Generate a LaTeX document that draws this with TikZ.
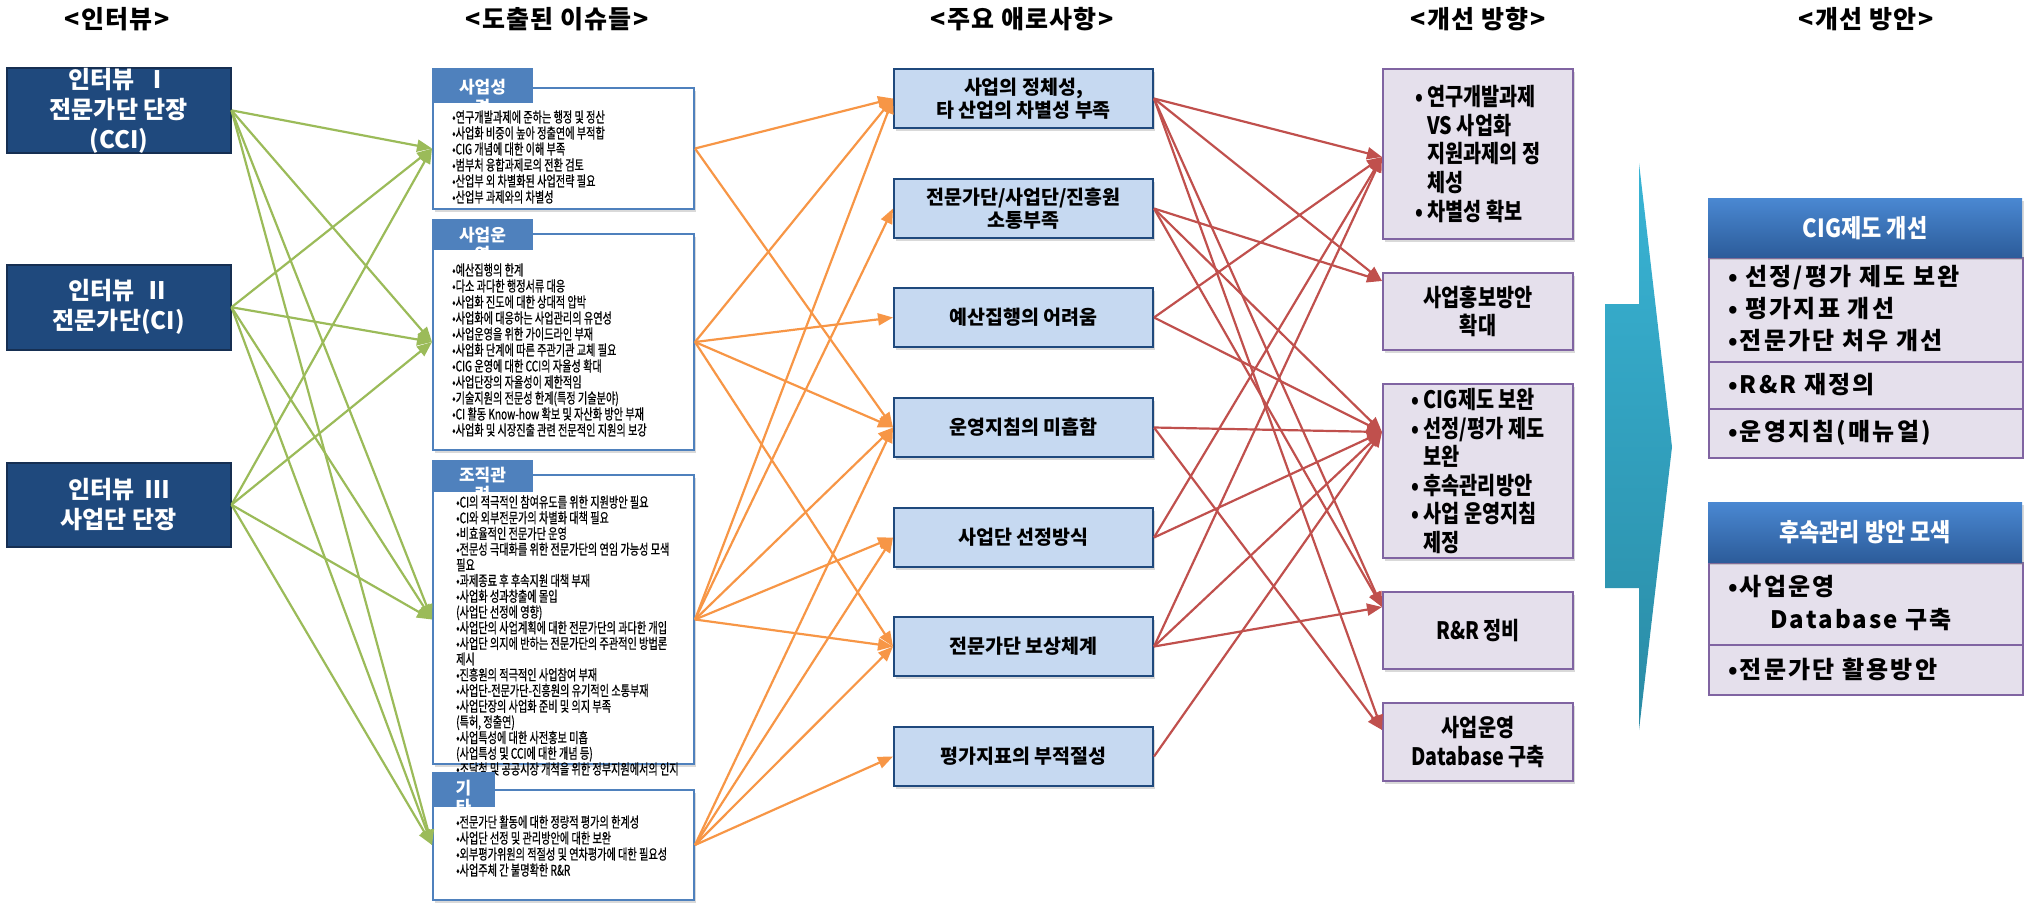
\documentclass[tikz,border=0pt]{standalone}
\usepackage{fontspec}
\setmainfont{Noto Sans CJK KR}
\newfontfamily\smallkr{Noto Sans CJK KR}[FakeStretch=0.7,FakeBold=0.6]
\newfontfamily\rkr{Noto Sans CJK KR}[FakeStretch=0.82]
\newfontfamily\gkr{Noto Sans CJK KR}[LetterSpace=9]
\newfontfamily\hkr{Noto Sans CJK KR}[LetterSpace=5]
\newfontfamily\ghkr{Noto Sans CJK KR}[FakeStretch=0.88]
\usetikzlibrary{arrows.meta,shadows}
\definecolor{ifill}{HTML}{1F497D}
\definecolor{ibord}{HTML}{162F52}
\definecolor{eblue}{HTML}{4F81BD}
\definecolor{mfill}{HTML}{C6D9F1}
\definecolor{mbord}{HTML}{1F497D}
\definecolor{pfill}{HTML}{E5E0EC}
\definecolor{pbord}{HTML}{8064A2}
\definecolor{gcol}{HTML}{9BBB59}
\definecolor{ocol}{HTML}{F79646}
\definecolor{rcol}{HTML}{C0504D}
\definecolor{arrtop}{HTML}{39B4D5}
\definecolor{arrbot}{HTML}{2A8BA5}
\definecolor{htop}{HTML}{4A88D2}
\definecolor{hbot}{HTML}{2C5C9A}
\begin{document}
\begin{tikzpicture}[x=1pt,y=-1pt,
  shd/.style={drop shadow={shadow xshift=2pt,shadow yshift=-3pt,opacity=0.3}},
  hdr/.style={font=\hkr\bfseries\fontsize{25}{30}\selectfont, inner sep=0pt},
  ibox/.style={draw=ibord, fill=ifill, line width=1.5pt, text=white, align=center,
    font=\bfseries\fontsize{24}{30}\selectfont, inner sep=0pt, anchor=north west,
    minimum width=224pt},
  ebox/.style={draw=eblue, line width=2pt, fill=white, anchor=north west, inner sep=0pt,
    minimum width=261pt, shd},
  etext/.style={font=\smallkr\fontsize{14.5}{16}\selectfont, align=left, anchor=west, inner sep=0pt},
  tabtext/.style={font=\bfseries\fontsize{17}{19.5}\selectfont, text=white, align=center, inner sep=0pt},
  mbox/.style={draw=mbord, fill=mfill, line width=2pt, align=center,
    font=\bfseries\fontsize{19.5}{23.5}\selectfont, minimum width=259pt, minimum height=59pt,
    anchor=north west, inner sep=0pt, shd},
  rbox/.style={draw=pbord, fill=pfill, line width=2pt, font=\rkr\bfseries\fontsize{24}{28.6}\selectfont,
    minimum width=190pt, anchor=north west, inner sep=0pt, shd},
  ghead/.style={top color=htop, bottom color=hbot, draw=none, minimum width=314pt, anchor=north west,
    inner sep=0pt, text=white, font=\ghkr\bfseries\fontsize{25}{30}\selectfont, shd},
  gsub/.style={draw=pbord, fill=pfill, line width=2pt, minimum width=314pt, anchor=north west, inner sep=0pt},
  gtext/.style={font=\gkr\bfseries\fontsize{24}{32}\selectfont, anchor=west, align=left, inner sep=0pt},
  gline/.style={draw=gcol, line width=2.2pt, -{Triangle[length=15pt,width=12pt]}},
  oline/.style={draw=ocol, line width=2.2pt, -{Triangle[length=15pt,width=12pt]}},
  rline/.style={draw=rcol, line width=2.2pt, -{Triangle[length=15pt,width=12pt]}}
]
\useasboundingbox (0,0) rectangle (2024,903);

% headers
\node[hdr] (h1) at (117,19) {<인터뷰>};
\node[hdr] (h2) at (557,19) {<도출된 이슈들>};
\node[hdr] (h3) at (1022,19) {<주요 애로사항>};
\node[hdr] (h4) at (1478,19) {<개선 방향>};
\node[hdr] (h5) at (1866,19) {<개선 방안>};

% interview boxes
\node[ibox, minimum height=85pt] (I1) at (6,67) {인터뷰 \ Ⅰ\\전문가단 단장\\(CCI)};
\node[ibox, minimum height=85pt] (I2) at (6,264) {인터뷰 \ Ⅱ\\전문가단(CI)};
\node[ibox, minimum height=84pt] (I3) at (6,462) {인터뷰 \ Ⅲ\\사업단 단장};

% issue boxes
\node[ebox, minimum height=121pt] (B1) at (432,87) {};
\begin{scope}
\clip (432,68) rectangle (533,103);
\fill[eblue] (432,68) rectangle (533,103);
\node[tabtext] (T1) at (482.5,97.25) {사업성\\격};
\end{scope}
\node[etext] (E1) at (452,157) {•연구개발과제에 준하는 행정 및 정산\\•사업화 비중이 높아 정출연에 부적합\\•CIG 개념에 대한 이해 부족\\•범부처 융합과제로의 전환 검토\\•산업부 외 차별화된 사업전략 필요\\•산업부 과제와의 차별성};

\node[ebox, minimum height=216pt] (B2) at (432,233) {};
\begin{scope}
\clip (432,219) rectangle (533,250);
\fill[eblue] (432,219) rectangle (533,250);
\node[tabtext] (T2) at (482.5,244.75) {사업운\\영};
\end{scope}
\node[etext] (E2) at (452,350) {•예산집행의 한계\\•다소 과다한 행정서류 대응\\•사업화 진도에 대한 상대적 압박\\•사업화에 대응하는 사업관리의 유연성\\•사업운영을 위한 가이드라인 부재\\•사업화 단계에 따른 주관기관 교체 필요\\•CIG 운영에 대한 CCI의 자율성 확대\\•사업단장의 자율성이 제한적임\\•기술지원의 전문성 한계(특정 기술분야)\\•CI 활동 Know-how 확보 및 자산화 방안 부재\\•사업화 및 시장진출 관련 전문적인 지원의 보강};

\node[ebox, minimum height=289pt] (B3) at (432,474) {};
\begin{scope}
\clip (432,460) rectangle (533,492);
\fill[eblue] (432,460) rectangle (533,492);
\node[tabtext] (T3) at (482.5,484.75) {조직관\\련};
\end{scope}
\node[etext, font=\smallkr\fontsize{14.5}{15.7}\selectfont] (E3) at (456,635.5) {•CI의 적극적인 참여유도를 위한 지원방안 필요\\•CI와 외부전문가의 차별화 대책 필요\\•비효율적인 전문가단 운영\\•전문성 극대화를 위한 전문가단의 연임 가능성 모색\\필요\\•과제종료 후 후속지원 대책 부재\\•사업화 성과창출에 몰입\\(사업단 선정에 영향)\\•사업단의 사업계획에 대한 전문가단의 과다한 개입\\•사업단 의지에 반하는 전문가단의 주관적인 방법론\\제시\\•진흥원의 적극적인 사업참여 부재\\•사업단-전문가단-진흥원의 유기적인 소통부재\\•사업단장의 사업화 준비 및 의지 부족\\(특허, 정출연)\\•사업특성에 대한 사전홍보 미흡\\(사업특성 및 CCI에 대한 개념 등)\\•조달청 및 공공시장 개척을 위한 정부지원에서의 인지};

\node[ebox, minimum height=110pt] (B4) at (432,789) {};
\begin{scope}
\clip (432,772) rectangle (495,807);
\fill[eblue] (432,772) rectangle (495,807);
\node[tabtext] (T4) at (463.5,797.75) {기\\타};
\end{scope}
\node[etext] (E4) at (456,846) {•전문가단 활동에 대한 정량적 평가의 한계성\\•사업단 선정 및 관리방안에 대한 보완\\•외부평가위원의 적절성 및 연차평가에 대한 필요성\\•사업주체 간 불명확한 R\&R};

% main difficulties
\node[mbox] (M1) at (893,68) {사업의 정체성,\\타 산업의 차별성 부족};
\node[mbox] (M2) at (893,178) {전문가단/사업단/진흥원\\소통부족};
\node[mbox] (M3) at (893,287) {예산집행의 어려움};
\node[mbox] (M4) at (893,397) {운영지침의 미흡함};
\node[mbox] (M5) at (893,507) {사업단 선정방식};
\node[mbox] (M6) at (893,616) {전문가단 보상체계};
\node[mbox] (M7) at (893,726) {평가지표의 부적절성};

% improvement directions
\node[rbox, minimum height=170pt, align=left] (R1) at (1382,68) {\makebox[12pt][l]{•}연구개발과제\\\hspace*{12pt}VS 사업화\\\hspace*{12pt}지원과제의 정\\\hspace*{12pt}체성\\\makebox[12pt][l]{•}차별성 확보};
\node[rbox, minimum height=77pt, align=center] (R2) at (1382,272) {사업홍보방안\\확대};
\node[rbox, minimum height=174pt, align=left] (R3) at (1382,383) {\makebox[12pt][l]{•}CIG제도 보완\\\makebox[12pt][l]{•}선정/평가 제도\\\hspace*{12pt}보완\\\makebox[12pt][l]{•}후속관리방안\\\makebox[12pt][l]{•}사업 운영지침\\\hspace*{12pt}제정};
\node[rbox, minimum height=77pt, align=center] (R4) at (1382,591) {R\&R 정비};
\node[rbox, minimum height=78pt, align=center] (R5) at (1382,702) {사업운영\\Database 구축};

\coordinate (R1in) at (1382,157);
\coordinate (R2in) at (1382,281);
\coordinate (R3in) at (1382,432);
\coordinate (R4in) at (1382,607);
\coordinate (R5in) at (1382,730);

% big arrow
\shade[top color=arrtop, bottom color=arrbot] (1605,304) -- (1639,304) -- (1639,163) -- (1672,447) -- (1639,730) -- (1639,588) -- (1605,588) -- cycle;

% improvement plans
\node[gsub, minimum height=104pt] (G1a) at (1708,257) {};
\node[gsub, minimum height=47pt] (G1b) at (1708,361) {};
\node[gsub, minimum height=49pt] (G1c) at (1708,408) {};
\node[ghead, minimum height=59pt] (G1) at (1708,198) {CIG제도 개선};
\node[gtext] (g1t) at (1728,309) {• 선정/평가 제도 보완\\• 평가지표 개선\\•전문가단 처우 개선};
\node[gtext] (g2t) at (1728,384.5) {•R\&R 재정의};
\node[gtext] (g3t) at (1728,432.5) {•운영지침(매뉴얼)};

\node[gsub, minimum height=82pt] (G2a) at (1708,562) {};
\node[gsub, minimum height=50pt] (G2b) at (1708,644) {};
\node[ghead, minimum height=60pt] (G2) at (1708,502) {후속관리 방안 모색};
\node[gtext, font=\gkr\bfseries\fontsize{24}{33}\selectfont] (g4t) at (1728,603) {•사업운영\\\hspace*{42pt}Database 구축};
\node[gtext] (g5t) at (1728,669) {•전문가단 활용방안};

% connectors
\foreach \s in {I1,I2,I3}
  \foreach \t in {B1,B2,B3,B4}
    \draw[gline] (\s.east) -- (\t.west);
\foreach \s/\t in {B1/M1,B1/M4,B2/M1,B2/M3,B2/M4,B2/M6,B3/M1,B3/M2,B3/M4,B3/M5,B3/M6,B4/M4,B4/M5,B4/M6,B4/M7}
  \draw[oline] (\s.east) -- (\t.west);
\foreach \s/\t in {M1/R1in,M1/R2in,M1/R4in,M1/R5in,M2/R2in,M2/R3in,M2/R4in,M3/R1in,M3/R3in,M4/R3in,M4/R5in,M5/R1in,M5/R3in,M6/R1in,M6/R3in,M6/R4in,M7/R3in}
  \draw[rline] (\s.east) -- (\t);
\end{tikzpicture}
\end{document}
